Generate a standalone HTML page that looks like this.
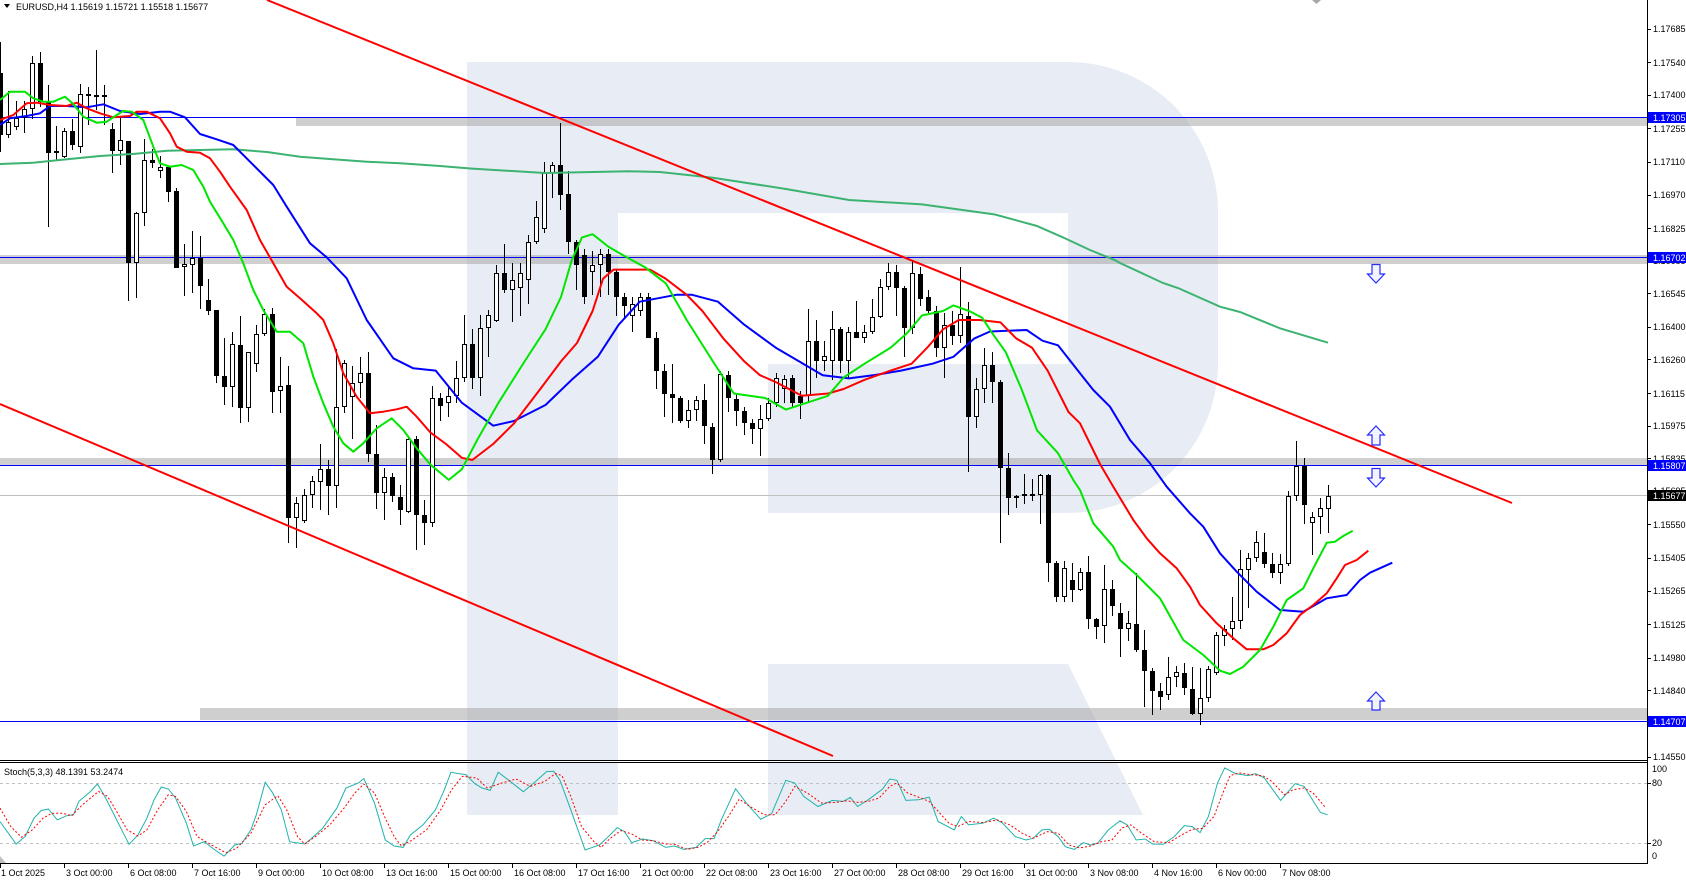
<!DOCTYPE html>
<html><head><meta charset="utf-8"><style>html,body{margin:0;padding:0;background:#fff;overflow:hidden}svg{display:block}</style></head>
<body>
<svg width="1686" height="880" viewBox="0 0 1686 880" xmlns="http://www.w3.org/2000/svg" font-family="'Liberation Sans', sans-serif" font-size="9">
<rect width="1686" height="880" fill="#fff"/>
<!-- watermark R -->
<g fill="#e8ecf4">
<rect x="467" y="62" width="151" height="753"/>
<path d="M618 62H1068A150 150 0 0 1 1218 212V363A150 150 0 0 1 1068 513H768V364H1068V213H618Z"/>
<path d="M768 664H1068L1143 815H768Z"/>
</g>
<!-- zones -->
<g fill="#a0a0a0" fill-opacity="0.5">
<rect x="296" y="118" width="1351" height="8"/>
<rect x="0" y="255" width="1647" height="9"/>
<rect x="0" y="458" width="1647" height="7"/>
<rect x="200" y="708" width="1447" height="12"/>
</g>
<!-- horizontal lines -->
<g stroke="#0000ff" stroke-width="1">
<line x1="0" y1="117.5" x2="1647" y2="117.5"/>
<line x1="0" y1="257.5" x2="1647" y2="257.5"/>
<line x1="0" y1="465.5" x2="1647" y2="465.5"/>
<line x1="0" y1="721.5" x2="1647" y2="721.5"/>
</g>
<line x1="0" y1="495.5" x2="1647" y2="495.5" stroke="#c0c0c0" stroke-width="1"/>
<!-- wicks -->
<path fill="none" stroke="#000" stroke-width="1" d="M0.5 42V152M8.5 91V138M16.5 101V130M24.5 101V133M32.5 56V119M40.5 52V107M48.5 85V227M56.5 126V160M64.5 128V158M72.5 119V150M80.5 84V153M88.5 87V125M96.5 50V110M104.5 85V125M112.5 123V173M120.5 117V165M128.5 141V301M136.5 212V298M144.5 139V226M152.5 149V168M160.5 156V178M168.5 167V202M176.5 188V268M184.5 244V296M192.5 231V293M200.5 236V309M208.5 279V315M216.5 310V383M224.5 338V405M232.5 332V407M240.5 316V423M248.5 352V422M256.5 325V372M264.5 309V336M272.5 308V413M280.5 357V413M288.5 366V543M296.5 497V548M304.5 489V523M312.5 476V508M320.5 444V510M328.5 460V515M336.5 349V508M344.5 360V413M352.5 366V439M360.5 357V398M368.5 352V462M376.5 425V509M384.5 468V520M392.5 473V502M400.5 485V525M408.5 436V513M416.5 436V550M424.5 500V545M432.5 386V527M440.5 393V421M448.5 387V417M456.5 361V403M464.5 315V382M472.5 329V389M480.5 315V396M488.5 310V357M496.5 265V322M504.5 244V293M512.5 263V322M520.5 263V316M528.5 235V304M536.5 201V244M544.5 162V233M552.5 162V198M560.5 123V210M568.5 171V254M576.5 240V290M584.5 249V304M592.5 251V295M600.5 249V297M608.5 249V295M616.5 270V316M624.5 293V318M632.5 297V332M640.5 293V316M648.5 293V338M656.5 332V389M664.5 364V417M672.5 364V423M680.5 396V423M688.5 400V428M696.5 396V421M704.5 384V444M712.5 423V474M720.5 371V462M728.5 371V412M736.5 394V426M744.5 407V435M752.5 419V444M760.5 405V456M768.5 398V421M776.5 373V407M784.5 375V403M792.5 375V407M800.5 391V419M808.5 309V403M816.5 320V378M824.5 341V371M832.5 311V380M840.5 327V373M848.5 327V378M856.5 301V338M864.5 325V343M872.5 299V334M880.5 279V318M888.5 263V290M896.5 265V316M904.5 286V357M912.5 260V334M920.5 267V306M928.5 290V313M936.5 306V357M944.5 313V378M952.5 311V345M960.5 267V343M968.5 302V472M976.5 378V428M984.5 348V403M992.5 352V403M1000.5 380V543M1008.5 453V515M1016.5 495V508M1024.5 474V504M1032.5 479V501M1040.5 474V524M1048.5 474V582M1056.5 561V602M1064.5 561V602M1072.5 563V602M1080.5 568V591M1088.5 556V629M1096.5 618V639M1104.5 565V643M1112.5 580V616M1120.5 603V657M1128.5 611V641M1136.5 573V652M1144.5 630V707M1152.5 668V715M1160.5 683V710M1168.5 657V700M1176.5 666V687M1184.5 663V695M1192.5 667V715M1200.5 668V725M1208.5 666V702M1216.5 632V675M1224.5 625V646M1232.5 597V640M1240.5 550V629M1248.5 553V608M1256.5 531V562M1264.5 533V568M1272.5 553V578M1280.5 554V584M1288.5 491V566M1296.5 441V501M1304.5 458V524M1312.5 512V555M1320.5 498V534M1328.5 485V533"/>
<!-- bearish bodies -->
<path fill="#000" d="M-2 73h5V135h-5zM38 63h5V102h-5zM46 101h5V153h-5zM70 131h5V145h-5zM86 94h5V96h-5zM94 95h5V97h-5zM102 95h5V97h-5zM110 129h5V151h-5zM126 141h5V263h-5zM150 160h5V163h-5zM166 167h5V192h-5zM174 191h5V268h-5zM198 258h5V286h-5zM206 300h5V311h-5zM214 310h5V376h-5zM222 376h5V387h-5zM238 345h5V408h-5zM270 314h5V392h-5zM286 385h5V518h-5zM326 469h5V486h-5zM366 373h5V454h-5zM374 454h5V493h-5zM390 477h5V496h-5zM398 497h5V510h-5zM414 439h5V515h-5zM422 515h5V523h-5zM438 398h5V406h-5zM470 344h5V378h-5zM502 273h5V290h-5zM558 165h5V195h-5zM566 194h5V242h-5zM574 242h5V265h-5zM582 255h5V297h-5zM606 254h5V272h-5zM614 272h5V297h-5zM622 297h5V306h-5zM646 297h5V338h-5zM654 338h5V371h-5zM662 371h5V394h-5zM670 394h5V398h-5zM678 398h5V421h-5zM702 400h5V426h-5zM710 427h5V460h-5zM726 375h5V398h-5zM734 399h5V411h-5zM742 411h5V423h-5zM750 423h5V429h-5zM790 378h5V403h-5zM798 396h5V403h-5zM814 341h5V361h-5zM838 329h5V361h-5zM854 332h5V338h-5zM894 272h5V288h-5zM902 288h5V328h-5zM918 274h5V299h-5zM926 297h5V311h-5zM934 311h5V348h-5zM950 325h5V336h-5zM966 316h5V417h-5zM990 365h5V382h-5zM998 382h5V468h-5zM1006 468h5V498h-5zM1022 494h5V496h-5zM1030 494h5V496h-5zM1046 475h5V563h-5zM1054 563h5V597h-5zM1070 580h5V590h-5zM1086 572h5V619h-5zM1094 619h5V627h-5zM1110 589h5V606h-5zM1118 613h5V629h-5zM1134 624h5V650h-5zM1142 650h5V671h-5zM1150 671h5V691h-5zM1158 691h5V697h-5zM1182 673h5V688h-5zM1190 689h5V714h-5zM1262 552h5V564h-5zM1270 564h5V573h-5zM1302 466h5V505h-5z"/>
<!-- bullish bodies -->
<path fill="#fff" stroke="#000" stroke-width="1" d="M6.5 122.5h4V134.5h-4zM14.5 118.5h4V126.5h-4zM22.5 109.5h4V117.5h-4zM30.5 63.5h4V108.5h-4zM54.5 151.5h4V152.5h-4zM62.5 131.5h4V156.5h-4zM78.5 94.5h4V146.5h-4zM118.5 140.5h4V150.5h-4zM134.5 213.5h4V262.5h-4zM142.5 160.5h4V212.5h-4zM158.5 167.5h4V170.5h-4zM182.5 264.5h4V266.5h-4zM190.5 258.5h4V264.5h-4zM230.5 344.5h4V386.5h-4zM246.5 352.5h4V407.5h-4zM254.5 334.5h4V363.5h-4zM262.5 314.5h4V333.5h-4zM278.5 386.5h4V390.5h-4zM294.5 503.5h4V517.5h-4zM302.5 495.5h4V520.5h-4zM310.5 481.5h4V494.5h-4zM318.5 469.5h4V481.5h-4zM334.5 407.5h4V485.5h-4zM342.5 363.5h4V406.5h-4zM350.5 383.5h4V396.5h-4zM358.5 373.5h4V382.5h-4zM382.5 477.5h4V492.5h-4zM406.5 439.5h4V511.5h-4zM430.5 398.5h4V522.5h-4zM446.5 396.5h4V402.5h-4zM454.5 378.5h4V395.5h-4zM462.5 344.5h4V377.5h-4zM478.5 328.5h4V377.5h-4zM486.5 315.5h4V327.5h-4zM494.5 273.5h4V320.5h-4zM510.5 280.5h4V289.5h-4zM518.5 273.5h4V287.5h-4zM526.5 242.5h4V279.5h-4zM534.5 217.5h4V241.5h-4zM542.5 173.5h4V228.5h-4zM550.5 165.5h4V172.5h-4zM590.5 265.5h4V271.5h-4zM598.5 254.5h4V264.5h-4zM630.5 304.5h4V315.5h-4zM638.5 297.5h4V310.5h-4zM686.5 410.5h4V420.5h-4zM694.5 400.5h4V409.5h-4zM718.5 374.5h4V459.5h-4zM758.5 419.5h4V428.5h-4zM766.5 403.5h4V418.5h-4zM774.5 378.5h4V402.5h-4zM782.5 379.5h4V388.5h-4zM806.5 341.5h4V395.5h-4zM822.5 356.5h4V360.5h-4zM830.5 329.5h4V360.5h-4zM846.5 332.5h4V360.5h-4zM862.5 332.5h4V337.5h-4zM870.5 317.5h4V331.5h-4zM878.5 287.5h4V316.5h-4zM886.5 272.5h4V286.5h-4zM910.5 273.5h4V327.5h-4zM942.5 325.5h4V347.5h-4zM958.5 314.5h4V335.5h-4zM974.5 389.5h4V416.5h-4zM982.5 365.5h4V388.5h-4zM1014.5 496.5h4V497.5h-4zM1038.5 475.5h4V494.5h-4zM1062.5 568.5h4V596.5h-4zM1078.5 572.5h4V589.5h-4zM1102.5 589.5h4V625.5h-4zM1126.5 623.5h4V628.5h-4zM1166.5 677.5h4V694.5h-4zM1174.5 672.5h4V676.5h-4zM1198.5 698.5h4V713.5h-4zM1206.5 669.5h4V697.5h-4zM1214.5 635.5h4V672.5h-4zM1222.5 629.5h4V635.5h-4zM1230.5 621.5h4V628.5h-4zM1238.5 569.5h4V620.5h-4zM1246.5 558.5h4V569.5h-4zM1254.5 542.5h4V557.5h-4zM1278.5 564.5h4V572.5h-4zM1286.5 496.5h4V563.5h-4zM1294.5 466.5h4V495.5h-4zM1310.5 517.5h4V522.5h-4zM1318.5 508.5h4V516.5h-4zM1326.5 496.5h4V508.5h-4z"/>
<!-- SMA200 -->
<polyline fill="none" stroke="#3cb371" stroke-width="2" points="0,164 33,162.7 67,159.3 100,156 133,154 167,150.7 200,150 233,149.3 267,152 300,156.7 333,159.3 367,161.7 400,163.3 440,166 472,168.6 545,173 629,171.3 660,172 713,177.7 786,189 849,200 922,204.4 995,214.5 1037,226 1063,237.4 1090,250 1115.6,260.4 1120,263 1163,283 1178,288 1220,306.7 1240,312 1280,328.3 1328,342.7"/>
<!-- Alligator jaw -->
<polyline fill="none" stroke="#0000ff" stroke-width="2" stroke-linejoin="round" points="0,125 10,118.3 26.7,116 40,113.3 50,106 66.7,106 86.7,107.3 103.3,104.3 120,111 140,114 160,111.7 170,111.7 185,117.3 200,134 216.7,139.3 233.3,145 250,161.7 273.3,185 286.7,206.7 310,243.3 326.7,257.3 346.7,278.3 366.7,320 393.3,358.3 413.3,368.3 435.7,370.6 461.8,402.7 493.2,425.7 514,421 545.5,405 571.7,379.8 597.8,356.8 618.7,324.7 639.7,301.7 676.3,294.8 692,294.8 718,301.7 744.3,324.7 775.6,347.6 807,366 822.7,375.2 848.9,378.4 875,375 901,370.6 932.6,363.7 953.5,356.8 974.4,338.4 990,331.5 1026.7,330 1042.4,340.7 1058,345.3 1080,373.3 1093.3,390 1110,406.7 1130,440 1150,463.3 1166.7,486.7 1190,513.3 1203.3,526.7 1220,553.3 1236.7,571.7 1256.7,591.7 1280,610 1303.3,611.7 1326.7,598.3 1346.7,595 1360,580 1370,572.7 1392.3,562.7"/>
<!-- Alligator teeth -->
<polyline fill="none" stroke="#ff0000" stroke-width="2" stroke-linejoin="round" points="0,120 13.3,115 26.7,103.3 36.7,102.7 50,105 66.7,106 76.7,102.7 86.7,108.3 100,113.3 113.3,117.3 130,116 136.7,111.7 146.7,111.7 160,118.3 170,133.3 176.7,146.7 186.7,151.7 200,152.7 210,158.3 220,171.7 230,186.7 246.7,210 260,240 273.3,263.3 286.7,286.7 300,298.3 316.7,313.3 323.3,320 333.3,343.3 343.3,373.3 356.7,396.7 370,413.3 383.3,411.7 396.7,409.3 406.7,406.7 416.7,416.7 430.5,432.6 446,444 461.8,457.8 472.3,460 493.2,444 514,423.4 540.3,389 561,361.4 577,343 592.6,311 603,278.8 613.5,269.6 650,269.6 665.8,278.8 686.7,294.8 702.4,311 723.3,338.4 744.3,361.4 760,375.2 775.6,382 801.8,395.8 828,393.5 843.6,389 864.6,379.8 890.7,370.6 911.6,363.7 927.3,347.6 943,329.3 958.7,320 979.6,320 1000.5,322.4 1016.2,338.4 1031.9,347.6 1047.6,370.6 1068.5,412 1080,423.3 1100,464 1113.3,486.7 1133.3,520 1146.7,538.3 1160,553.3 1176.7,568.3 1190,586.7 1200,605 1216.7,623.3 1233.3,638.3 1246.7,649.3 1263.3,649.3 1273.3,645 1286.7,633.3 1300,615 1313.3,605 1326.7,593.3 1336.7,578.3 1345,565 1356.7,560 1368.3,550.7"/>
<!-- Alligator lips -->
<polyline fill="none" stroke="#00e600" stroke-width="2" stroke-linejoin="round" points="0,100 10,91.7 25,91.7 33.3,98.3 43.3,101.7 53.3,101.7 65,96.7 73.3,104 83.3,116.7 96.7,122.7 106.7,121.7 116.7,115 123.3,111 131.7,111.7 143.3,120 153.3,146.7 160,163.3 170,166.7 181.7,165 193.3,170 203.3,186.7 210,201.7 223.3,223.3 233.3,240 243.3,263.3 253.3,290 263.3,310 276.7,331.7 290,331.7 303.3,343.3 313.3,376.7 323.3,403.3 333.3,426.7 343.3,443.3 353.3,451.7 363.3,443.3 376.7,428.3 391.7,418.3 403.3,430 416.7,448.3 430.5,464.7 448.8,479.9 461.8,469.3 477.5,439.4 498.5,402.7 524.6,361.4 545.5,329.3 561,297 571.7,260.4 582,237.4 592.6,234.2 608.3,246.6 624,255.8 645,267.3 665.8,283.3 686.7,320 712.9,361.4 733.8,393.5 749.5,395.8 765.2,398 786,409.6 807,402.7 828,395.8 843.6,377.5 864.6,363.7 890.7,347.6 906.4,333.8 922,315.5 943,311 953.5,305.4 969.2,311 982.2,317.8 992.7,333.8 1005.8,352.2 1021.5,389 1037,430.3 1058,453.2 1073.8,480.8 1080,490 1093.3,523.3 1113.3,546.7 1120,560 1136.7,575 1160,598.3 1183.3,640 1203.3,655 1220,670.7 1230,674 1243.3,666.7 1260,650 1273.3,626.7 1286.7,600 1303.3,588.3 1313.3,568.3 1326.7,542.7 1335,541.7 1343.3,536 1352.7,530.7"/>
<!-- trendlines -->
<line x1="267" y1="0" x2="1512" y2="503" stroke="#ff0000" stroke-width="2"/>
<line x1="0" y1="404" x2="833" y2="756" stroke="#ff0000" stroke-width="2"/>
<!-- arrows -->
<g fill="#f2f4ff" stroke="#2a2aff" stroke-width="1.2">
<path d="M1372 264.5H1380V274H1384.5L1376 283L1367.5 274H1372Z"/>
<path d="M1376 426L1384.5 435H1380V445H1372V435H1367.5Z"/>
<path d="M1372 468.5H1380V478H1384.5L1376 487L1367.5 478H1372Z"/>
<path d="M1376 692L1384.5 701H1380V710H1372V701H1367.5Z"/>
</g>
<path d="M1312 0H1321L1316.5 4Z" fill="#a8a8a8"/>
<!-- title -->
<path d="M4 4H10L7 8Z" fill="#000"/>
<text x="16" y="10" fill="#000">EURUSD,H4  1.15619 1.15721 1.15518 1.15677</text>
<!-- frames -->
<rect x="0" y="760" width="1647" height="3" fill="#fff"/>
<line x1="0" y1="760.5" x2="1648" y2="760.5" stroke="#000"/>
<line x1="0" y1="762.5" x2="1648" y2="762.5" stroke="#000"/>
<line x1="0" y1="863.5" x2="1648" y2="863.5" stroke="#000"/>
<line x1="1647.5" y1="0" x2="1647.5" y2="864" stroke="#000"/>
<path d="M0 856L6 863H0Z" fill="#c0c0c0"/>
<!-- price axis ticks -->
<path stroke="#000" d="M1648 29.5h3M1648 62.5h3M1648 95.5h3M1648 128.5h3M1648 162.5h3M1648 195.5h3M1648 228.5h3M1648 261.5h3M1648 293.5h3M1648 327.5h3M1648 359.5h3M1648 393.5h3M1648 426.5h3M1648 458.5h3M1648 491.5h3M1648 524.5h3M1648 558.5h3M1648 591.5h3M1648 624.5h3M1648 658.5h3M1648 690.5h3M1648 723.5h3M1648 757.5h3"/>
<g fill="#000">
<text x="1653" y="32">1.17685</text>
<text x="1653" y="66">1.17540</text>
<text x="1653" y="98">1.17400</text>
<text x="1653" y="132">1.17255</text>
<text x="1653" y="165">1.17110</text>
<text x="1653" y="198">1.16970</text>
<text x="1653" y="232">1.16825</text>
<text x="1653" y="264">1.16685</text>
<text x="1653" y="297">1.16545</text>
<text x="1653" y="330">1.16400</text>
<text x="1653" y="363">1.16260</text>
<text x="1653" y="397">1.16115</text>
<text x="1653" y="429">1.15975</text>
<text x="1653" y="462">1.15835</text>
<text x="1653" y="494">1.15695</text>
<text x="1653" y="528">1.15550</text>
<text x="1653" y="561">1.15405</text>
<text x="1653" y="594">1.15265</text>
<text x="1653" y="628">1.15125</text>
<text x="1653" y="661">1.14980</text>
<text x="1653" y="694">1.14840</text>
<text x="1653" y="726">1.14700</text>
<text x="1653" y="760">1.14550</text>
</g>
<!-- price boxes -->
<g fill="#0000ff">
<rect x="1648" y="112" width="38" height="11"/>
<rect x="1648" y="252" width="38" height="11"/>
<rect x="1648" y="460" width="38" height="11"/>
<rect x="1648" y="716" width="38" height="11"/>
</g>
<rect x="1648" y="490" width="38" height="11" fill="#000"/>
<g fill="#fff">
<text x="1653" y="121">1.17305</text>
<text x="1653" y="261">1.16702</text>
<text x="1653" y="469">1.15807</text>
<text x="1653" y="499">1.15677</text>
<text x="1653" y="725">1.14707</text>
</g>
<!-- stochastic -->
<g stroke="#c0c0c0" stroke-dasharray="3,3">
<line x1="0" y1="783.5" x2="1647" y2="783.5"/>
<line x1="0" y1="843.5" x2="1647" y2="843.5"/>
</g>
<path stroke="#000" d="M1648 783.5h3M1648 843.5h3"/>
<text x="4" y="775" fill="#000">Stoch(5,3,3) 48.1391 53.2474</text>
<g fill="#000">
<text x="1652" y="772">100</text>
<text x="1652" y="786">80</text>
<text x="1652" y="846">20</text>
<text x="1652" y="859">0</text>
</g>
<polyline fill="none" stroke="#20b2aa" stroke-width="1" points="0,821.5 16.1,844 25.1,836.6 34,818.2 41.2,810.5 48.4,809.1 57.3,819.9 66.3,815.8 73.5,814.8 78.8,801.4 89.6,792.4 97.5,784 105.7,798.1 118.3,823.2 129,844.3 138,835 146.9,818.2 154.1,799.8 161.3,787 168.4,789 175.6,798.1 186.4,823.2 193.5,846 204.3,841.7 215,850 224,856.1 234.8,845 241.9,843.3 250.9,829.9 256.3,814.8 265.2,782.3 272.4,792.4 281.3,809.8 289.6,841.7 304.6,844 311.8,838.3 322.6,828.3 336.9,808.1 345.9,788 358.4,783 363.8,778.6 374.5,803.1 385.3,840 394.2,846 403.2,847.4 410.4,835 422.9,824.9 435.5,809.8 444.4,789.7 450.9,772.3 458.8,773.6 465.9,774.6 474.9,783.7 482.1,788 490.3,790.4 498.2,772.3 508.9,780.3 523.3,791.7 535.8,781.3 546.6,771.6 553.7,771.3 560,780.3 570.8,809.8 585.1,850 599.4,845 606.6,838.3 617.3,827.6 624.5,831.6 631.7,842.7 642.4,839 653.2,840.7 665.7,847.4 674.7,846 683.6,849.4 696.2,847.4 705.2,838.6 714.1,838.6 721.3,819.9 735.6,788.7 746.4,803.1 760.7,819.2 771.5,813.8 785.8,780.3 794.8,783 803.7,796.4 818,806.5 832.4,800.4 843.1,801.4 850.3,797.4 857.5,806.5 868.2,799.8 882.6,789 889.7,779 896.9,780.3 905.9,800.4 918.4,799.8 929.2,797.1 938.1,821.5 954.2,829.9 961.4,816.5 968.6,824.9 982.9,823.2 993.7,818.2 1002.6,823.2 1015.2,836.6 1025.9,840 1033.1,838.3 1042,829.9 1049.2,829.3 1058.2,836.6 1065.3,846.7 1074.3,849.4 1083.3,842.7 1090.4,845 1097.6,843.3 1108.4,829.9 1120,820.9 1127.2,824.9 1136.2,840 1145.3,839 1152.5,844 1163.3,844.3 1174.2,836.6 1184.3,825.6 1192.2,826.6 1200.1,832.6 1208.4,816.5 1217.5,783 1224.7,767.9 1235.5,773.6 1248.2,775.6 1255.4,773.6 1264.4,778 1280.6,800.4 1295.1,783.7 1304.1,786.4 1320.4,812.5 1327.6,814.8"/>
<polyline fill="none" stroke="#ff0000" stroke-width="1" stroke-dasharray="2,2" points="0,808.1 10.8,826.6 21.5,837.3 32.3,829.9 43,818.2 52,813.2 62.7,813.2 71.7,815.8 82.4,804.8 98.6,791.4 107.5,796.4 114.7,808.1 127.2,829.9 138,836 146.9,829.9 157.7,809.8 168.4,794.7 175.6,796.4 186.4,811.5 197.1,836.6 211.5,845 225.8,852.7 236.5,848.4 250.9,833.3 265.2,804.8 277.8,795.7 286.7,809.8 297.5,836.6 304.6,844 315.4,836.6 329.7,824.9 344.1,808.1 354.8,793 363.8,784 374.5,793 385.3,818.2 394.2,836.6 401.4,846 412.2,840 426.5,829.9 440.8,809.8 451.6,789.7 462.3,776.3 476.7,778 487.4,788 501.8,783 516.1,779 530.4,786.4 544.8,781.3 555.5,773.6 562,775.6 570.8,796.4 581.5,826.6 594,841.7 601.2,847.4 610.2,838.3 620.9,830.6 631.7,834 642.4,840 653.2,840.7 665.7,844 674.7,844.3 687.2,849.4 698,847.4 706.9,842.7 717.7,831.6 728.4,816.5 739.2,799.1 750,806.5 764.3,814.8 775,814.8 785.8,801.4 794.8,786.4 807.3,793 821.6,803.1 836,802.4 846.7,800.8 857.5,802.4 868.2,801.4 879,798.1 889.7,786.4 896.9,783 907.6,793 918.4,797.1 929.2,801.4 939.9,813.2 948.9,823.2 957.8,826.6 968.6,821.5 982.9,822.6 997.2,819.9 1009.8,824.9 1022.3,833.3 1033.1,838.3 1047.4,831.6 1058.2,833.3 1068.9,845 1079.7,848 1090.4,846 1101.2,841.7 1111.9,840 1122,828 1130.8,824.9 1141.7,833.3 1154.3,841.7 1168.7,842.7 1181.4,835 1192.2,829.3 1203,828.3 1213.9,816.5 1222.9,793 1230.1,775.6 1239.1,772.9 1250,774.6 1262.6,775.6 1271.6,781.3 1284.3,794.7 1293.3,789.7 1304.1,788 1313.1,793 1320.4,801.4 1325.8,808.1"/>
<!-- time axis -->
<path stroke="#000" d="M0.5 864v4M64.5 864v4M128.5 864v4M192.5 864v4M256.5 864v4M320.5 864v4M384.5 864v4M448.5 864v4M512.5 864v4M576.5 864v4M640.5 864v4M704.5 864v4M768.5 864v4M832.5 864v4M896.5 864v4M960.5 864v4M1024.5 864v4M1088.5 864v4M1152.5 864v4M1216.5 864v4M1280.5 864v4"/>
<g fill="#000">
<text x="1" y="876">1 Oct 2025</text>
<text x="66" y="876">3 Oct 00:00</text>
<text x="130" y="876">6 Oct 08:00</text>
<text x="194" y="876">7 Oct 16:00</text>
<text x="258" y="876">9 Oct 00:00</text>
<text x="322" y="876">10 Oct 08:00</text>
<text x="386" y="876">13 Oct 16:00</text>
<text x="450" y="876">15 Oct 00:00</text>
<text x="514" y="876">16 Oct 08:00</text>
<text x="578" y="876">17 Oct 16:00</text>
<text x="642" y="876">21 Oct 00:00</text>
<text x="706" y="876">22 Oct 08:00</text>
<text x="770" y="876">23 Oct 16:00</text>
<text x="834" y="876">27 Oct 00:00</text>
<text x="898" y="876">28 Oct 08:00</text>
<text x="962" y="876">29 Oct 16:00</text>
<text x="1026" y="876">31 Oct 00:00</text>
<text x="1090" y="876">3 Nov 08:00</text>
<text x="1154" y="876">4 Nov 16:00</text>
<text x="1218" y="876">6 Nov 00:00</text>
<text x="1282" y="876">7 Nov 08:00</text>
</g>
</svg>
</body></html>
